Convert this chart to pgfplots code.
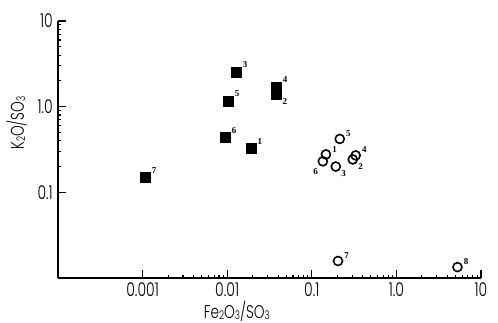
\documentclass[border=0pt]{standalone}
\usepackage{fontspec}
\setmainfont{Poppins Light}[FakeStretch=0.74]
\newfontfamily\numfont{Liberation Serif}
\usepackage{pgfplots}
\pgfplotsset{compat=1.18}
\newcommand{\sub}[1]{\raisebox{-0.1ex}{\fontsize{12}{12}\selectfont #1}}
\begin{document}
\begin{tikzpicture}
\path[use as bounding box] (0,0) rectangle (498bp,323bp);
\begin{axis}[
  at={(58bp,45bp)}, anchor=south west,
  width=423bp, height=257bp, scale only axis,
  xmode=log, ymode=log,
  xmin=0.0001, xmax=10, ymin=0.01, ymax=10,
  axis lines=left, axis line style={-, line width=1.1pt},
  tick align=inside, major tick length=8bp,
  tick style={line width=1.1pt, black},
  xtick={0.001,0.01,0.1,1,10}, xticklabels={0.001,0.01,0.1,1.0,10},
  ytick={0.1,1,10}, yticklabels={0.1,1.0,10},
  minor xtick={}, minor ytick={},
  ticklabel style={font=\fontsize{19}{19}\selectfont, inner sep=0pt},
  xticklabel style={anchor=north, yshift=-5bp},
  yticklabel style={anchor=east, xshift=-5bp},
  xlabel={Fe\sub{2}O\sub{3}/SO\sub{3}},
  ylabel={K\sub{2}O/SO\sub{3}},
  label style={font=\fontsize{18.5}{18.5}\selectfont, inner sep=0pt},
  xlabel style={at={(rel axis cs:0.423,0)}, anchor=base, yshift=-40bp},
  ylabel style={at={(rel axis cs:0,0.603)}, anchor=base, yshift=34bp},
  clip=false,
  nodes near coords,
  point meta=explicit symbolic,
  every node near coord/.append style={font=\numfont\bfseries\fontsize{9}{9}\selectfont},
]
% filled squares, labels upper right
\addplot[only marks, mark=square*, mark size=5bp, black,
  every node near coord/.append style={anchor=south west, xshift=3bp, yshift=0.5bp}]
  table[meta=l] {
x y l
0.0192 0.325 1
0.0128 2.55 3
0.038 1.71 4
0.0103 1.17 5
0.0095 0.436 6
0.00108 0.149 7
};
\addplot[only marks, mark=square*, mark size=5bp, black,
  every node near coord/.append style={anchor=north west, xshift=2.8bp, yshift=-0.3bp}]
  table[meta=l] {
x y l
0.038 1.38 2
};
% open circles
\addplot[only marks, mark=o, mark size=4.5bp, black, line width=1.6pt,
  every node near coord/.append style={anchor=south west, xshift=2.3bp, yshift=-1.7bp}]
  table[meta=l] {
x y l
0.147 0.277 1
0.33 0.27 4
0.214 0.42 5
0.204 0.0158 7
5.27 0.0134 8
};
\addplot[only marks, mark=o, mark size=4.5bp, black, line width=1.6pt,
  every node near coord/.append style={anchor=north west, xshift=1.5bp, yshift=0bp}]
  table[meta=l] {
x y l
0.305 0.242 2
0.192 0.2 3
};
\addplot[only marks, mark=o, mark size=4.5bp, black, line width=1.6pt,
  every node near coord/.append style={anchor=north east, xshift=-0.8bp, yshift=-3.3bp}]
  table[meta=l] {
x y l
0.135 0.23 6
};
\end{axis}
\end{tikzpicture}
\end{document}
